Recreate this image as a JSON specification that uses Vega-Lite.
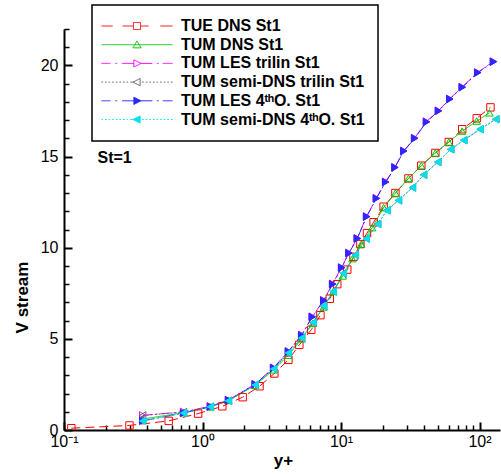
{
  "$schema": "https://vega.github.io/schema/vega-lite/v6.json",
  "width": 436,
  "height": 401,
  "autosize": "none",
  "padding": {"left": 64, "top": 29, "right": 1, "bottom": 44},
  "background": "white",
  "config": {"view": {"stroke": null}, "font": "Liberation Sans"},
  "datasets": {
    "curves": [
      {"series": "TUE DNS St1", "x": 0.113, "v": 0.1},
      {"series": "TUE DNS St1", "x": 0.297, "v": 0.25},
      {"series": "TUE DNS St1", "x": 0.57, "v": 0.5},
      {"series": "TUE DNS St1", "x": 0.93, "v": 0.9},
      {"series": "TUE DNS St1", "x": 1.39, "v": 1.3},
      {"series": "TUE DNS St1", "x": 1.95, "v": 1.8},
      {"series": "TUE DNS St1", "x": 2.58, "v": 2.4},
      {"series": "TUE DNS St1", "x": 3.3, "v": 3.1},
      {"series": "TUE DNS St1", "x": 4.17, "v": 3.85},
      {"series": "TUE DNS St1", "x": 5.0, "v": 4.67},
      {"series": "TUE DNS St1", "x": 6.1, "v": 5.5},
      {"series": "TUE DNS St1", "x": 7.1, "v": 6.3},
      {"series": "TUE DNS St1", "x": 8.3, "v": 7.2},
      {"series": "TUE DNS St1", "x": 9.4, "v": 8.0},
      {"series": "TUE DNS St1", "x": 11.1, "v": 8.8},
      {"series": "TUE DNS St1", "x": 12.3, "v": 9.5},
      {"series": "TUE DNS St1", "x": 13.8, "v": 10.2},
      {"series": "TUE DNS St1", "x": 15.4, "v": 10.8},
      {"series": "TUE DNS St1", "x": 17.2, "v": 11.4},
      {"series": "TUE DNS St1", "x": 20.3, "v": 12.25},
      {"series": "TUE DNS St1", "x": 24.7, "v": 13.0},
      {"series": "TUE DNS St1", "x": 30.7, "v": 13.8},
      {"series": "TUE DNS St1", "x": 38, "v": 14.5},
      {"series": "TUE DNS St1", "x": 48, "v": 15.2},
      {"series": "TUE DNS St1", "x": 60, "v": 15.8},
      {"series": "TUE DNS St1", "x": 75, "v": 16.5},
      {"series": "TUE DNS St1", "x": 95.5, "v": 17.1},
      {"series": "TUE DNS St1", "x": 120, "v": 17.7},

      {"series": "TUM DNS St1", "x": 0.37, "v": 0.6},
      {"series": "TUM DNS St1", "x": 0.73, "v": 0.95},
      {"series": "TUM DNS St1", "x": 1.14, "v": 1.27},
      {"series": "TUM DNS St1", "x": 1.54, "v": 1.62},
      {"series": "TUM DNS St1", "x": 2.4, "v": 2.45},
      {"series": "TUM DNS St1", "x": 3.26, "v": 3.3},
      {"series": "TUM DNS St1", "x": 4.17, "v": 4.1},
      {"series": "TUM DNS St1", "x": 5.2, "v": 5.0},
      {"series": "TUM DNS St1", "x": 6.25, "v": 5.85},
      {"series": "TUM DNS St1", "x": 7.5, "v": 6.75},
      {"series": "TUM DNS St1", "x": 8.8, "v": 7.6},
      {"series": "TUM DNS St1", "x": 10.3, "v": 8.45},
      {"series": "TUM DNS St1", "x": 12.1, "v": 9.4},
      {"series": "TUM DNS St1", "x": 14.0, "v": 10.2},
      {"series": "TUM DNS St1", "x": 16.8, "v": 11.1},
      {"series": "TUM DNS St1", "x": 20.3, "v": 12.2},
      {"series": "TUM DNS St1", "x": 24.7, "v": 13.0},
      {"series": "TUM DNS St1", "x": 30.7, "v": 13.8},
      {"series": "TUM DNS St1", "x": 38, "v": 14.5},
      {"series": "TUM DNS St1", "x": 48, "v": 15.2},
      {"series": "TUM DNS St1", "x": 60, "v": 15.8},
      {"series": "TUM DNS St1", "x": 75, "v": 16.4},
      {"series": "TUM DNS St1", "x": 95.5, "v": 16.95},
      {"series": "TUM DNS St1", "x": 118, "v": 17.4},

      {"series": "TUM LES trilin St1", "x": 0.37, "v": 0.8},
      {"series": "TUM LES trilin St1", "x": 0.73, "v": 1.0},
      {"series": "TUM LES trilin St1", "x": 1.14, "v": 1.3},
      {"series": "TUM LES trilin St1", "x": 1.54, "v": 1.65},
      {"series": "TUM LES trilin St1", "x": 2.4, "v": 2.52},
      {"series": "TUM LES trilin St1", "x": 3.26, "v": 3.42},
      {"series": "TUM LES trilin St1", "x": 4.17, "v": 4.32},
      {"series": "TUM LES trilin St1", "x": 5.2, "v": 5.22},
      {"series": "TUM LES trilin St1", "x": 6.2, "v": 6.22},
      {"series": "TUM LES trilin St1", "x": 7.5, "v": 7.12},
      {"series": "TUM LES trilin St1", "x": 8.7, "v": 8.02},
      {"series": "TUM LES trilin St1", "x": 10.1, "v": 8.92},
      {"series": "TUM LES trilin St1", "x": 11.4, "v": 9.72},
      {"series": "TUM LES trilin St1", "x": 13.1, "v": 10.52},
      {"series": "TUM LES trilin St1", "x": 15.3, "v": 11.72},
      {"series": "TUM LES trilin St1", "x": 18, "v": 12.72},
      {"series": "TUM LES trilin St1", "x": 21, "v": 13.62},
      {"series": "TUM LES trilin St1", "x": 24.5, "v": 14.42},
      {"series": "TUM LES trilin St1", "x": 28.4, "v": 15.32},
      {"series": "TUM LES trilin St1", "x": 34, "v": 16.02},
      {"series": "TUM LES trilin St1", "x": 41.4, "v": 16.92},
      {"series": "TUM LES trilin St1", "x": 50.5, "v": 17.52},
      {"series": "TUM LES trilin St1", "x": 61, "v": 18.17},
      {"series": "TUM LES trilin St1", "x": 75, "v": 18.82},
      {"series": "TUM LES trilin St1", "x": 97, "v": 19.62},
      {"series": "TUM LES trilin St1", "x": 126, "v": 20.22},

      {"series": "TUM semi-DNS trilin St1", "x": 0.37, "v": 0.8},
      {"series": "TUM semi-DNS trilin St1", "x": 0.73, "v": 0.98},
      {"series": "TUM semi-DNS trilin St1", "x": 1.14, "v": 1.28},
      {"series": "TUM semi-DNS trilin St1", "x": 1.54, "v": 1.61},
      {"series": "TUM semi-DNS trilin St1", "x": 2.4, "v": 2.48},
      {"series": "TUM semi-DNS trilin St1", "x": 3.26, "v": 3.36},
      {"series": "TUM semi-DNS trilin St1", "x": 4.17, "v": 4.22},
      {"series": "TUM semi-DNS trilin St1", "x": 5.2, "v": 5.05},
      {"series": "TUM semi-DNS trilin St1", "x": 6.3, "v": 5.9},
      {"series": "TUM semi-DNS trilin St1", "x": 7.5, "v": 6.8},
      {"series": "TUM semi-DNS trilin St1", "x": 8.8, "v": 7.6},
      {"series": "TUM semi-DNS trilin St1", "x": 10.4, "v": 8.6},
      {"series": "TUM semi-DNS trilin St1", "x": 12.7, "v": 9.6},
      {"series": "TUM semi-DNS trilin St1", "x": 15.2, "v": 10.5},
      {"series": "TUM semi-DNS trilin St1", "x": 18.4, "v": 11.3},
      {"series": "TUM semi-DNS trilin St1", "x": 21.5, "v": 12.05},
      {"series": "TUM semi-DNS trilin St1", "x": 26, "v": 12.6},
      {"series": "TUM semi-DNS trilin St1", "x": 32.8, "v": 13.3},
      {"series": "TUM semi-DNS trilin St1", "x": 39.5, "v": 14.0},
      {"series": "TUM semi-DNS trilin St1", "x": 50, "v": 14.7},
      {"series": "TUM semi-DNS trilin St1", "x": 62, "v": 15.4},
      {"series": "TUM semi-DNS trilin St1", "x": 77, "v": 15.9},
      {"series": "TUM semi-DNS trilin St1", "x": 101, "v": 16.5},
      {"series": "TUM semi-DNS trilin St1", "x": 131, "v": 17.05},

      {"series": "TUM LES 4ᵗʰO. St1", "x": 0.37, "v": 0.5},
      {"series": "TUM LES 4ᵗʰO. St1", "x": 0.73, "v": 0.93},
      {"series": "TUM LES 4ᵗʰO. St1", "x": 1.14, "v": 1.28},
      {"series": "TUM LES 4ᵗʰO. St1", "x": 1.54, "v": 1.63},
      {"series": "TUM LES 4ᵗʰO. St1", "x": 2.4, "v": 2.5},
      {"series": "TUM LES 4ᵗʰO. St1", "x": 3.26, "v": 3.4},
      {"series": "TUM LES 4ᵗʰO. St1", "x": 4.17, "v": 4.3},
      {"series": "TUM LES 4ᵗʰO. St1", "x": 5.2, "v": 5.2},
      {"series": "TUM LES 4ᵗʰO. St1", "x": 6.2, "v": 6.2},
      {"series": "TUM LES 4ᵗʰO. St1", "x": 7.5, "v": 7.1},
      {"series": "TUM LES 4ᵗʰO. St1", "x": 8.7, "v": 8.0},
      {"series": "TUM LES 4ᵗʰO. St1", "x": 10.1, "v": 8.9},
      {"series": "TUM LES 4ᵗʰO. St1", "x": 11.4, "v": 9.7},
      {"series": "TUM LES 4ᵗʰO. St1", "x": 13.1, "v": 10.5},
      {"series": "TUM LES 4ᵗʰO. St1", "x": 15.3, "v": 11.7},
      {"series": "TUM LES 4ᵗʰO. St1", "x": 18, "v": 12.7},
      {"series": "TUM LES 4ᵗʰO. St1", "x": 21, "v": 13.6},
      {"series": "TUM LES 4ᵗʰO. St1", "x": 24.5, "v": 14.4},
      {"series": "TUM LES 4ᵗʰO. St1", "x": 28.4, "v": 15.3},
      {"series": "TUM LES 4ᵗʰO. St1", "x": 34, "v": 16.0},
      {"series": "TUM LES 4ᵗʰO. St1", "x": 41.4, "v": 16.9},
      {"series": "TUM LES 4ᵗʰO. St1", "x": 50.5, "v": 17.5},
      {"series": "TUM LES 4ᵗʰO. St1", "x": 61, "v": 18.15},
      {"series": "TUM LES 4ᵗʰO. St1", "x": 75, "v": 18.8},
      {"series": "TUM LES 4ᵗʰO. St1", "x": 97, "v": 19.6},
      {"series": "TUM LES 4ᵗʰO. St1", "x": 126, "v": 20.2},

      {"series": "TUM semi-DNS 4ᵗʰO. St1", "x": 0.37, "v": 0.5},
      {"series": "TUM semi-DNS 4ᵗʰO. St1", "x": 0.73, "v": 0.93},
      {"series": "TUM semi-DNS 4ᵗʰO. St1", "x": 1.14, "v": 1.27},
      {"series": "TUM semi-DNS 4ᵗʰO. St1", "x": 1.54, "v": 1.6},
      {"series": "TUM semi-DNS 4ᵗʰO. St1", "x": 2.4, "v": 2.47},
      {"series": "TUM semi-DNS 4ᵗʰO. St1", "x": 3.26, "v": 3.35},
      {"series": "TUM semi-DNS 4ᵗʰO. St1", "x": 4.17, "v": 4.23},
      {"series": "TUM semi-DNS 4ᵗʰO. St1", "x": 5.2, "v": 5.05},
      {"series": "TUM semi-DNS 4ᵗʰO. St1", "x": 6.3, "v": 5.9},
      {"series": "TUM semi-DNS 4ᵗʰO. St1", "x": 7.5, "v": 6.8},
      {"series": "TUM semi-DNS 4ᵗʰO. St1", "x": 8.8, "v": 7.6},
      {"series": "TUM semi-DNS 4ᵗʰO. St1", "x": 10.4, "v": 8.6},
      {"series": "TUM semi-DNS 4ᵗʰO. St1", "x": 12.7, "v": 9.6},
      {"series": "TUM semi-DNS 4ᵗʰO. St1", "x": 15.2, "v": 10.5},
      {"series": "TUM semi-DNS 4ᵗʰO. St1", "x": 18.4, "v": 11.3},
      {"series": "TUM semi-DNS 4ᵗʰO. St1", "x": 21.5, "v": 12.05},
      {"series": "TUM semi-DNS 4ᵗʰO. St1", "x": 26, "v": 12.6},
      {"series": "TUM semi-DNS 4ᵗʰO. St1", "x": 32.8, "v": 13.3},
      {"series": "TUM semi-DNS 4ᵗʰO. St1", "x": 39.5, "v": 14.0},
      {"series": "TUM semi-DNS 4ᵗʰO. St1", "x": 50, "v": 14.7},
      {"series": "TUM semi-DNS 4ᵗʰO. St1", "x": 62, "v": 15.4},
      {"series": "TUM semi-DNS 4ᵗʰO. St1", "x": 77, "v": 15.9},
      {"series": "TUM semi-DNS 4ᵗʰO. St1", "x": 101, "v": 16.5},
      {"series": "TUM semi-DNS 4ᵗʰO. St1", "x": 131, "v": 17.05}
    ],
    "note": [{"label": "St=1", "x": 0.1746, "v": 14.65}]
  },
  "resolve": {"axis": {"x": "independent", "y": "independent"}},
  "layer": [
    {
      "data": {"name": "curves"},
      "mark": {"type": "line", "strokeWidth": 1, "clip": true},
      "encoding": {
        "x": {
          "field": "x", "type": "quantitative",
          "scale": {"type": "log", "domain": [0.1, 140.6], "nice": false},
          "axis": {
            "orient": "bottom", "values": [0.1, 1, 10, 100],
            "labelExpr": "datum.value < 0.5 ? '10⁻¹' : datum.value < 5 ? '10⁰' : datum.value < 50 ? '10¹' : '10²'",
            "ticks": false, "grid": false, "domain": true, "domainColor": "black", "domainWidth": 2,
            "labelFont": "Liberation Sans", "labelFontSize": 16, "labelColor": "black",
            "labelPadding": 3, "labelBaseline": "top", "labelFlush": false, "labelOverlap": false,
            "title": "y+", "titleFont": "Liberation Sans", "titleFontSize": 17, "titleFontWeight": "bold",
            "titleColor": "black", "titleX": 219, "titleY": 30, "titleBaseline": "middle", "titleAlign": "center"
          }
        },
        "y": {
          "field": "v", "type": "quantitative",
          "scale": {"domain": [0, 22], "nice": false, "zero": false},
          "axis": {
            "orient": "left", "values": [0, 5, 10, 15, 20],
            "ticks": false, "grid": false, "domain": true, "domainColor": "black", "domainWidth": 2,
            "labelFont": "Liberation Sans", "labelFontSize": 16, "labelColor": "black",
            "labelPadding": 6, "labelFlush": false, "labelOverlap": false,
            "title": "V stream", "titleFont": "Liberation Sans", "titleFontSize": 17, "titleFontWeight": "bold",
            "titleColor": "black", "titleAngle": -90, "titleX": -42, "titleY": 268,
            "titleBaseline": "middle", "titleAlign": "center"
          }
        },
        "color": {
          "field": "series", "type": "nominal",
          "scale": {
            "domain": ["TUE DNS St1", "TUM DNS St1", "TUM LES trilin St1", "TUM semi-DNS trilin St1", "TUM LES 4ᵗʰO. St1", "TUM semi-DNS 4ᵗʰO. St1"],
            "range": ["#ff0000", "#00c800", "#ff00ff", "#606060", "#2828ff", "#00e0ee"]
          },
          "legend": {
            "title": null, "orient": "none", "legendX": 28, "legendY": -24,
            "padding": 13, "fillColor": "white", "strokeColor": "black",
            "symbolSize": 81, "symbolOffset": 24, "labelOffset": 36, "rowPadding": 2.7,
            "labelFont": "Liberation Sans", "labelFontSize": 16, "labelFontWeight": "bold",
            "labelColor": "black", "labelLimit": 400,
            "encode": {
              "legend": {"update": {"strokeWidth": {"value": 1.5}}},
              "symbols": {
                "update": {
                  "shape": {"signal": "datum.index === 0 ? 'M-7.9,0L-5.4,0M-3.2,0L-0.78,0M0.78,0L2.6,0M5.2,0L7.9,0M-0.78,-0.78L0.78,-0.78L0.78,0.78L-0.78,0.78Z' : datum.index === 1 ? 'M-7.9,0L7.9,0M0,-0.85L0.9,0.7L-0.9,0.7Z' : (datum.index === 2 || datum.index === 4) ? 'M-7.9,0L-5.9,0M-4.8,0L-4.4,0M-3.3,0L-0.7,0M0.9,0L3.4,0M4.4,0L4.8,0M5.7,0L7.9,0M-0.7,-0.8L0.9,0L-0.7,0.8Z' : 'M-7.9,0L-7.55,0M-7.1,0L-6.75,0M-6.3,0L-5.95,0M-5.5,0L-5.15,0M-4.7,0L-4.35,0M-3.9,0L-3.55,0M-3.1,0L-2.75,0M-2.3,0L-1.95,0M-1.5,0L-0.9,0M1.15,0L1.5,0M1.95,0L2.3,0M2.75,0L3.1,0M3.55,0L3.9,0M4.35,0L4.7,0M5.15,0L5.5,0M5.95,0L6.3,0M6.75,0L7.1,0M7.55,0L7.9,0M0.7,-0.8L-0.9,0L0.7,0.8Z'"},
                  "fill": {"signal": "datum.index === 4 ? '#2828ff' : datum.index === 5 ? '#00e0ee' : 'transparent'"},
                  "stroke": {"signal": "['#ff0000', '#00c800', '#ff00ff', '#606060', '#2828ff', '#00e0ee'][datum.index]"},
                  "strokeWidth": {"value": 1},
                  "strokeDash": {"value": [1, 0]},
                  "opacity": {"value": 1},
                  "size": {"value": 81}
                }
              }
            }
          }
        },
        "strokeDash": {
          "field": "series", "type": "nominal",
          "scale": {
            "domain": ["TUM semi-DNS 4ᵗʰO. St1", "TUM LES 4ᵗʰO. St1", "TUM semi-DNS trilin St1", "TUM LES trilin St1", "TUM DNS St1", "TUE DNS St1"],
            "range": [[2, 1.5], [12, 3, 2, 3], [2, 2], [10, 3, 2, 3], [1, 0], [9, 5]]
          },
          "legend": null
        },
        "order": {"field": "x", "type": "quantitative"}
      }
    },
    {
      "data": {"name": "curves"},
      "mark": {"type": "point", "strokeWidth": 1, "opacity": 1, "clip": true},
      "encoding": {
        "x": {
          "field": "x", "type": "quantitative",
          "axis": {
            "orient": "bottom", "values": [0.1, 1, 10, 100], "labels": false, "domain": false,
            "grid": false, "ticks": true, "tickSize": -8, "tickWidth": 2, "tickColor": "black", "title": null
          }
        },
        "y": {
          "field": "v", "type": "quantitative",
          "axis": {
            "orient": "left", "values": [0, 5, 10, 15, 20], "labels": false, "domain": false,
            "grid": false, "ticks": true, "tickSize": -8, "tickWidth": 2, "tickColor": "black", "title": null
          }
        },
        "stroke": {
          "field": "series", "type": "nominal",
          "scale": {
            "domain": ["TUE DNS St1", "TUM DNS St1", "TUM LES trilin St1", "TUM semi-DNS trilin St1", "TUM semi-DNS 4ᵗʰO. St1", "TUM LES 4ᵗʰO. St1"],
            "range": ["#ff0000", "#00c800", "#ff00ff", "#606060", "#00e0ee", "#2828ff"]
          },
          "legend": null
        },
        "fill": {
          "field": "series", "type": "nominal",
          "scale": {
            "domain": ["TUE DNS St1", "TUM DNS St1", "TUM semi-DNS trilin St1", "TUM LES trilin St1", "TUM LES 4ᵗʰO. St1", "TUM semi-DNS 4ᵗʰO. St1"],
            "range": ["transparent", "transparent", "transparent", "transparent", "#2828ff", "#00e0ee"]
          },
          "legend": null
        },
        "shape": {
          "field": "series", "type": "nominal",
          "scale": {
            "domain": ["TUM DNS St1", "TUE DNS St1", "TUM LES trilin St1", "TUM semi-DNS trilin St1", "TUM LES 4ᵗʰO. St1", "TUM semi-DNS 4ᵗʰO. St1"],
            "range": ["triangle-up", "square", "triangle-right", "triangle-left", "triangle-right", "triangle-left"]
          },
          "legend": null
        },
        "size": {"value": 55}
      }
    },
    {
      "data": {"name": "note"},
      "mark": {"type": "text", "align": "left", "baseline": "alphabetic", "font": "Liberation Sans", "fontSize": 16, "fontWeight": "bold", "color": "black"},
      "encoding": {
        "x": {
          "field": "x", "type": "quantitative",
          "axis": {
            "orient": "bottom", "values": [0.2, 0.3, 0.4, 0.5, 0.6, 0.7, 0.8, 0.9, 2, 3, 4, 5, 6, 7, 8, 9, 20, 30, 40, 50, 60, 70, 80, 90],
            "labels": false, "domain": false, "grid": false, "ticks": true, "tickSize": -5, "tickWidth": 1.5, "tickColor": "black", "title": null
          }
        },
        "y": {
          "field": "v", "type": "quantitative",
          "axis": {
            "orient": "left", "values": [1, 2, 3, 4, 6, 7, 8, 9, 11, 12, 13, 14, 16, 17, 18, 19, 21, 22],
            "labels": false, "domain": false, "grid": false, "ticks": true, "tickSize": -5, "tickWidth": 1.5, "tickColor": "black", "title": null
          }
        },
        "text": {"field": "label"}
      }
    }
  ]
}
